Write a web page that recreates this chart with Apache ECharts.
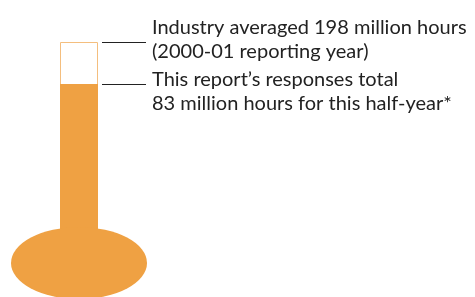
<!DOCTYPE html>
<html>
<head>
<meta charset="utf-8">
<script src="https://cdn.jsdelivr.net/npm/echarts@6/dist/echarts.min.js"></script>
<style>
  html, body { margin: 0; padding: 0; background: #fff; }
  #chart { width: 475px; height: 297px; }
</style>
</head>
<body>
<div id="chart"></div>
<script>
// thermometer values (million hours)
var categories = ['hours'];
var industryAvg = [198];
var reportTotal = [83];
var axisMin = -407;   // schematic bottom of the tube (bulb centre)
var axisMax = 198;
var labels = [
  'Industry averaged 198 million hours\n(2000-01 reporting year)',
  'This report\u2019s responses total\n83 million hours for this half-year*'
];

var orange = '#EFA143';
var myChart = echarts.init(document.getElementById('chart'));

// tube drawn from the axis minimum up to the value
function tube(fill, stroke) {
  return function (params, api) {
    var top = api.coord([api.value(0), api.value(1)]);
    var bottom = api.coord([api.value(0), axisMin]);
    var off = stroke ? 0.5 : 0;
    return {
      type: 'rect',
      shape: { x: top[0] - 19 + off, y: top[1] + off, width: 38 - 2 * off, height: bottom[1] - top[1] },
      style: { fill: fill, stroke: stroke || null, lineWidth: 1 }
    };
  };
}

var option = {
  animation: false,
  backgroundColor: '#fff',
  textStyle: { fontFamily: 'Lato' },
  grid: [
    { left: 60, width: 38, top: 42, bottom: 34 },
    { left: 102, width: 44, top: 42, bottom: 34 }
  ],
  xAxis: [
    { type: 'category', gridIndex: 0, data: categories, show: false },
    { type: 'value', gridIndex: 1, min: 0, max: 1, show: false }
  ],
  yAxis: [
    { type: 'value', gridIndex: 0, min: axisMin, max: axisMax, show: false },
    { type: 'value', gridIndex: 1, min: axisMin, max: axisMax, show: false }
  ],
  series: [
    {
      name: 'Industry average',
      type: 'custom',
      xAxisIndex: 0,
      yAxisIndex: 0,
      renderItem: tube('#fff', '#F4BE7E'),
      data: industryAvg.map(function (v, i) { return [i, v]; }),
      z: 1
    },
    {
      name: 'This report',
      type: 'custom',
      xAxisIndex: 0,
      yAxisIndex: 0,
      renderItem: tube(orange),
      data: reportTotal.map(function (v, i) { return [i, v]; }),
      z: 2
    },
    {
      name: 'bulb',
      type: 'scatter',
      xAxisIndex: 0,
      yAxisIndex: 0,
      clip: false,
      data: [axisMin],
      symbol: 'circle',
      symbolSize: [136, 72],
      itemStyle: { color: orange, opacity: 1 },
      z: 3
    },
    {
      name: 'leaders',
      type: 'line',
      xAxisIndex: 1,
      yAxisIndex: 1,
      data: [],
      markLine: {
        silent: true,
        symbol: 'none',
        lineStyle: { color: '#222', width: 1, type: 'solid' },
        label: {
          position: 'end',
          distance: 6,
          color: '#222',
          fontFamily: 'Lato',
          fontSize: 20,
          lineHeight: 24,
          align: 'left',
          verticalAlign: 'middle'
        },
        data: [
          { yAxis: industryAvg[0], label: { formatter: labels[0], offset: [0, -2] } },
          { yAxis: reportTotal[0], label: { formatter: labels[1], offset: [0, 8] } }
        ]
      }
    }
  ]
};
myChart.setOption(option);
</script>
</body>
</html>
